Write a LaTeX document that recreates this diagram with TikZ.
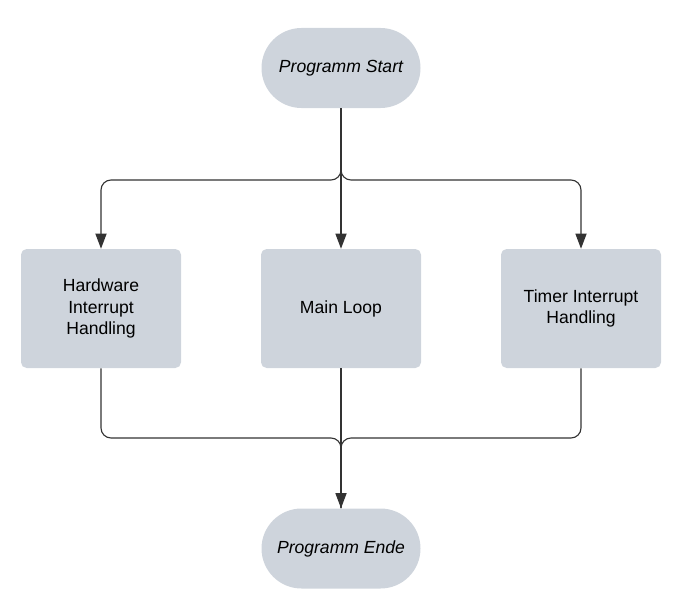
\documentclass[tikz,border=0pt]{standalone}
\usepackage{fontspec}
\setmainfont{Liberation Sans}
\usepackage{tikz}
\usetikzlibrary{positioning,arrows.meta}
\definecolor{boxgray}{HTML}{CED4DC}
\definecolor{linegray}{HTML}{333333}

\begin{document}
\begin{tikzpicture}[
      terminal/.style={rectangle, rounded corners=1cm, fill=boxgray,
        minimum width=3.975cm, minimum height=2cm,
        align=center, font=\fontsize{12.5}{15}\selectfont\itshape},
      proc/.style={rectangle, rounded corners=4pt, fill=boxgray,
        minimum width=4cm, minimum height=2.975cm,
        align=center, font=\fontsize{12.5}{15}\selectfont},
      arr/.style={-{Triangle[length=3.8mm,width=2.8mm]}, line width=0.8pt,
        color=linegray, rounded corners=0.25cm},
      link/.style={line width=0.8pt, color=linegray, rounded corners=0.25cm}
    ]
      \useasboundingbox (0,0) rectangle (17.1,-15.3);
      \node[terminal] (start) at (8.525,-1.7)     {Programm Start};
      \node[proc] (hw)    at (2.525,-7.7125)  {Hardware\\Interrupt\\Handling};
      \node[proc] (main)  at (8.525,-7.7125)  {Main Loop};
      \node[proc] (timer) at (14.525,-7.7125) {Timer Interrupt\\Handling};
      \node[terminal] (ende) at (8.525,-13.7125) {Programm Ende};
      \coordinate (split) at (8.525,-4.5);
      \coordinate (merge) at (8.525,-10.95);
      \draw[arr] (start.south) -- (split) -- (split -| hw.north) -- (hw.north);
      \draw[arr] (start.south) -- (main.north);
      \draw[arr] (start.south) -- (split) -- (split -| timer.north) -- (timer.north);
      \draw[link] (hw.south) -- (hw.south |- merge) -- (merge) -- (ende.north);
      \draw[arr] (main.south) -- (ende.north);
      \draw[link] (timer.south) -- (timer.south |- merge) -- (merge) -- (ende.north);
    \end{tikzpicture}
\end{document}
